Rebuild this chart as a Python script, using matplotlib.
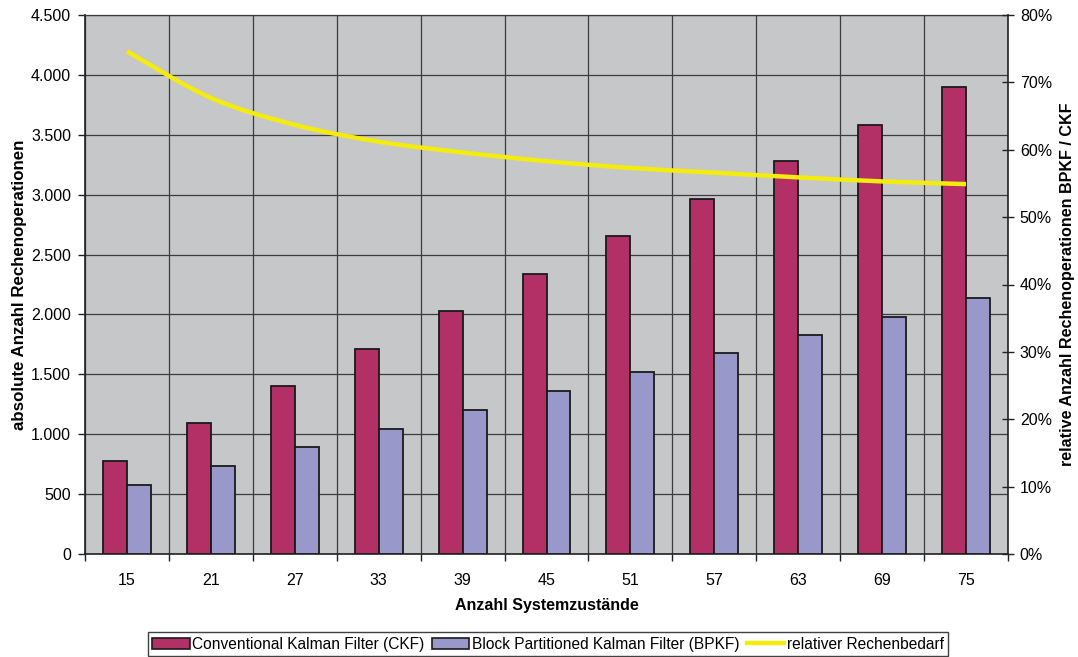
import numpy as np
import matplotlib
matplotlib.use('Agg')
import matplotlib.pyplot as plt
from matplotlib.ticker import FixedLocator, FuncFormatter, MultipleLocator
from matplotlib.path import Path
from matplotlib.patches import PathPatch, Patch
from matplotlib.lines import Line2D

plt.rcParams['font.family'] = ['Liberation Sans', 'DejaVu Sans']

# data
states = ['15', '21', '27', '33', '39', '45', '51', '57', '63', '69', '75']
ckf = [780, 1090, 1405, 1712, 2029, 2338, 2655, 2964, 3281, 3585, 3899]
bpkf = [578, 737, 893, 1045, 1203, 1361, 1519, 1677, 1830, 1981, 2137]
rel = [0.746, 0.677, 0.637, 0.612, 0.596, 0.583, 0.573, 0.566, 0.559, 0.553, 0.549]

col_ckf = '#B23066'
col_bpkf = '#9898CA'
col_rel = '#F4EC0C'
col_bg = '#C6C7C9'
col_grid = '#3C3C3C'

tick_fs = 11.5

fig = plt.figure(figsize=(10.78, 6.57), dpi=100)
ax = fig.add_axes([85/1078, 1-554/657, (1008-85)/1078, (554-15)/657])
ax.set_facecolor(col_bg)

x = np.arange(len(states))
w = 0.286
ax.bar(x - w/2, ckf, w, color=col_ckf, edgecolor='#1a1a1a', linewidth=1.3, zorder=3)
ax.bar(x + w/2, bpkf, w, color=col_bpkf, edgecolor='#1a1a1a', linewidth=1.3, zorder=3)

ax.set_xlim(-0.5, len(states) - 0.5)
ax.set_ylim(0, 4500)

# category boundaries as major ticks + vertical grid, labels on minor ticks
ax.xaxis.set_major_locator(FixedLocator(np.arange(-0.5, len(states), 1.0)))
ax.xaxis.set_major_formatter(FuncFormatter(lambda v, p: ''))
ax.xaxis.set_minor_locator(FixedLocator(x))
ax.set_xticklabels(states, minor=True)
ax.tick_params(axis='x', which='major', direction='out', length=5, width=1, color='#222222')
ax.tick_params(axis='x', which='minor', length=0, pad=14, labelsize=tick_fs)

ax.yaxis.set_major_locator(MultipleLocator(500))
ax.yaxis.set_major_formatter(FuncFormatter(lambda v, p: f'{int(v):,}'.replace(',', '.')))
ax.tick_params(axis='y', direction='out', length=5, width=1, color='#222222', labelsize=tick_fs, pad=5)

ax.grid(True, which='major', axis='both', color=col_grid, linewidth=0.9, zorder=0)
ax.set_axisbelow(True)

for s in ['left', 'bottom']:
    ax.spines[s].set_color('#222222')
    ax.spines[s].set_linewidth(1.2)
ax.spines['top'].set_color(col_grid)
ax.spines['top'].set_linewidth(0.9)
ax.spines['right'].set_visible(False)

ax.set_xlabel('Anzahl Systemzustände', fontsize=11.5, fontweight='bold', labelpad=7)
ax.set_ylabel('absolute Anzahl Rechenoperationen', fontsize=12.2, fontweight='bold', labelpad=3)

# secondary axis for the ratio
ax2 = ax.twinx()
ax2.set_ylim(0, 0.8)
ax2.yaxis.set_major_locator(MultipleLocator(0.1))
ax2.yaxis.set_major_formatter(FuncFormatter(lambda v, p: f'{v*100:.0f}%'))
ax2.tick_params(axis='y', direction='inout', length=9, width=1, color='#222222', labelsize=tick_fs, pad=4)
for s in ['left', 'bottom', 'top']:
    ax2.spines[s].set_visible(False)
ax2.spines['right'].set_color('#222222')
ax2.spines['right'].set_linewidth(1.2)
ax2.set_ylabel('relative Anzahl Rechenoperationen BPKF / CKF', fontsize=11.6,
               fontweight='bold', labelpad=6)

# smoothed ratio curve (cubic bezier through the points)
pts = np.column_stack([x, rel])
verts = [tuple(pts[0])]
codes = [Path.MOVETO]
n = len(pts)
for i in range(n - 1):
    p0 = pts[i - 1] if i > 0 else pts[i]
    p1 = pts[i]
    p2 = pts[i + 1]
    p3 = pts[i + 2] if i + 2 < n else pts[i + 1]
    c1 = p1 + (p2 - p0) / 6
    c2 = p2 - (p3 - p1) / 6
    verts += [tuple(c1), tuple(c2), tuple(p2)]
    codes += [Path.CURVE4] * 3
ax2.add_patch(PathPatch(Path(verts, codes), facecolor='none', edgecolor=col_rel,
                        linewidth=3.2, capstyle='butt', zorder=5))

handles = [Patch(facecolor=col_ckf, edgecolor='#1a1a1a', linewidth=1.2),
           Patch(facecolor=col_bpkf, edgecolor='#1a1a1a', linewidth=1.2),
           Line2D([], [], color=col_rel, linewidth=3.2)]
labels = ['Conventional Kalman Filter (CKF)', 'Block Partitioned Kalman Filter (BPKF)',
          'relativer Rechenbedarf']
leg = fig.legend(handles, labels, loc='upper center', bbox_to_anchor=(548/1078, 1-632/657),
                 ncol=3, frameon=True, fancybox=False, fontsize=11.2, handlelength=2.4,
                 handleheight=0.75, handletextpad=0.15, columnspacing=0.5,
                 borderpad=0.3, borderaxespad=0)
leg.get_frame().set_edgecolor('#111111')
leg.get_frame().set_linewidth(1.0)

fig.savefig('out.png', dpi=100)
